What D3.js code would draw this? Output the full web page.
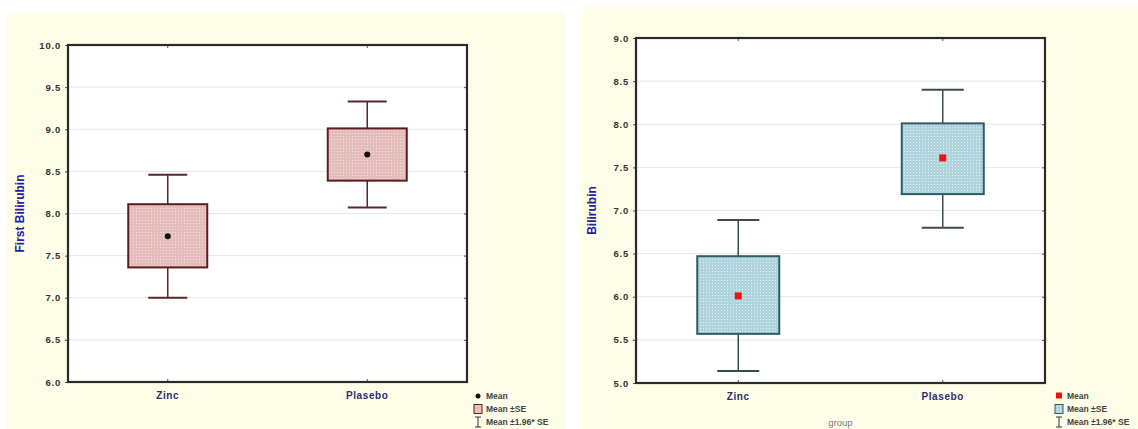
<!DOCTYPE html>
<html>
<head>
<meta charset="utf-8">
<script src="https://cdn.jsdelivr.net/npm/d3@7"></script>
<style>
  body { margin: 0; background: #fff; }
  text { font-family: Arial, "Liberation Sans", sans-serif; }
</style>
</head>
<body>
<svg id="chart" width="1138" height="429"></svg>
<script>
// groups on the x axis
const groups = ["Zinc", "Plasebo"]

// left panel: First Bilirubin
const firstMean = [7.73, 8.70]
const firstSeLow = [7.36, 8.39]
const firstSeHigh = [8.11, 9.01]
const firstCiLow = [7.00, 8.07]
const firstCiHigh = [8.46, 9.33]
const firstTicks = [6.0, 6.5, 7.0, 7.5, 8.0, 8.5, 9.0, 9.5, 10.0]

// right panel: Bilirubin
const secondMean = [6.01, 7.61]
const secondSeLow = [5.57, 7.19]
const secondSeHigh = [6.47, 8.01]
const secondCiLow = [5.14, 6.80]
const secondCiHigh = [6.89, 8.40]
const secondTicks = [5.0, 5.5, 6.0, 6.5, 7.0, 7.5, 8.0, 8.5, 9.0]

const legendLabels = ["Mean", "Mean \u00b1SE", "Mean \u00b11.96* SE"]

const svg = d3.select("#chart")
const defs = svg.append("defs")

// dotted fills like the original
function addPattern(id, base, dot) {
  let p = defs.append("pattern")
    .attr("id", id)
    .attr("width", 3)
    .attr("height", 3)
    .attr("patternUnits", "userSpaceOnUse")
  p.append("rect").attr("width", 3).attr("height", 3).attr("fill", base)
  p.append("rect").attr("x", 1).attr("y", 1).attr("width", 1).attr("height", 1).attr("fill", dot)
}
addPattern("pinkDots", "#e4bcbc", "#f4e0e0")
addPattern("blueDots", "#b0d4de", "#e2f0f4")

function drawPanel(cfg) {
  // cream panel background
  svg.append("rect")
    .attr("x", cfg.bg[0]).attr("y", cfg.bg[1])
    .attr("width", cfg.bg[2]).attr("height", cfg.bg[3])
    .attr("fill", "#fefee8")

  let x = d3.scaleBand().domain(groups).range([cfg.left, cfg.right]).padding(0)
  let y = d3.scaleLinear().domain(cfg.domain).range([cfg.bottom, cfg.top])
  let cx = d => x(d) + x.bandwidth() / 2

  let pane = svg.append("g")
  pane.append("rect")
    .attr("x", cfg.left).attr("y", cfg.top)
    .attr("width", cfg.right - cfg.left).attr("height", cfg.bottom - cfg.top)
    .attr("fill", "#fff")

  // grid
  pane.selectAll(".grid")
    .data(cfg.ticks.slice(1, -1))
    .enter()
    .append("line")
    .attr("x1", cfg.left).attr("x2", cfg.right)
    .attr("y1", d => y(d)).attr("y2", d => y(d))
    .attr("stroke", "#e6e6e6")
    .attr("stroke-width", 1)

  // y axis labels
  let yAxis = d3.axisLeft(y).tickValues(cfg.ticks).tickFormat(d3.format(".1f")).tickSize(3).tickPadding(4)
  let yg = pane.append("g").attr("transform", `translate(${cfg.left}, 0)`).call(yAxis)
  yg.select(".domain").remove()
  yg.selectAll("line").attr("stroke", "#555")
  yg.selectAll("text")
    .attr("font-size", "9.5px")
    .attr("font-weight", "bold")
    .attr("letter-spacing", "0.8px")
    .attr("fill", "#333")

  // right side ticks
  let yr = d3.axisRight(y).tickValues(cfg.ticks).tickSize(3).tickFormat("")
  let yrg = pane.append("g").attr("transform", `translate(${cfg.right - 3}, 0)`).call(yr)
  yrg.select(".domain").remove()
  yrg.selectAll("line").attr("stroke", "#555")

  // x axis
  let xAxis = d3.axisBottom(x).tickSize(3).tickPadding(10)
  let xg = pane.append("g").attr("transform", `translate(0, ${cfg.bottom - 3})`).call(xAxis)
  xg.select(".domain").remove()
  xg.selectAll("line").attr("stroke", "#555")
  xg.selectAll("text")
    .attr("font-size", "10px")
    .attr("font-weight", "bold")
    .attr("letter-spacing", "0.6px")
    .attr("fill", "#2c2c72")
  let xt = d3.axisTop(x).tickSize(3).tickFormat("")
  let xtg = pane.append("g").attr("transform", `translate(0, ${cfg.top + 3})`).call(xt)
  xtg.select(".domain").remove()
  xtg.selectAll("line").attr("stroke", "#555")

  // whiskers (mean ± 1.96*SE)
  let g = pane.selectAll(".box")
    .data(groups)
    .enter()
    .append("g")
    .classed("box", true)
  g.append("line")
    .attr("x1", d => cx(d)).attr("x2", d => cx(d))
    .attr("y1", (d, i) => y(cfg.ciLow[i])).attr("y2", (d, i) => y(cfg.ciHigh[i]))
    .attr("stroke", cfg.whisker).attr("stroke-width", 1.5)
  g.selectAll(".cap")
    .data((d, i) => [cfg.ciLow[i], cfg.ciHigh[i]].map(v => ({ g: d, v: v })))
    .enter()
    .append("line")
    .attr("x1", d => cx(d.g) - cfg.capW / 2).attr("x2", d => cx(d.g) + cfg.capW / 2)
    .attr("y1", d => y(d.v)).attr("y2", d => y(d.v))
    .attr("stroke", cfg.whisker).attr("stroke-width", 2)

  // boxes (mean ± SE)
  g.append("rect")
    .attr("x", d => cx(d) - cfg.boxW / 2)
    .attr("y", (d, i) => y(cfg.seHigh[i]))
    .attr("width", cfg.boxW)
    .attr("height", (d, i) => y(cfg.seLow[i]) - y(cfg.seHigh[i]))
    .attr("fill", cfg.fill)
    .attr("stroke", cfg.boxStroke)
    .attr("stroke-width", 2)

  // mean markers
  if (cfg.marker === "circle") {
    g.append("circle")
      .attr("cx", d => cx(d)).attr("cy", (d, i) => y(cfg.mean[i]))
      .attr("r", 3).attr("fill", "#111")
  } else {
    g.append("rect")
      .attr("x", d => cx(d) - 3.5).attr("y", (d, i) => y(cfg.mean[i]) - 3.5)
      .attr("width", 7).attr("height", 7).attr("fill", "#ee1111")
  }

  // frame
  pane.append("rect")
    .attr("x", cfg.left).attr("y", cfg.top)
    .attr("width", cfg.right - cfg.left).attr("height", cfg.bottom - cfg.top)
    .attr("fill", "none")
    .attr("stroke", "#2a2a2a")
    .attr("stroke-width", 2.2)

  // y title
  svg.append("text")
    .attr("transform", `translate(${cfg.titleX}, ${(cfg.top + cfg.bottom) / 2}) rotate(-90)`)
    .attr("text-anchor", "middle")
    .attr("font-size", "12px")
    .attr("font-weight", "bold")
    .attr("fill", "#2222a0")
    .text(cfg.title)

  if (cfg.xTitle) {
    svg.append("text")
      .attr("x", (cfg.left + cfg.right) / 2).attr("y", 426)
      .attr("text-anchor", "middle")
      .attr("font-size", "9.5px")
      .attr("fill", "#777")
      .text(cfg.xTitle)
  }

  // legend
  let lg = svg.append("g").attr("transform", `translate(${cfg.legendX}, 0)`)
  let ly = [396, 409, 422]
  if (cfg.marker === "circle") {
    lg.append("circle").attr("cx", 0).attr("cy", ly[0]).attr("r", 2.5).attr("fill", "#111")
  } else {
    lg.append("rect").attr("x", -3).attr("y", ly[0] - 3.5).attr("width", 6).attr("height", 6).attr("fill", "#ee1111")
  }
  lg.append("rect")
    .attr("x", -4).attr("y", ly[1] - 4.5).attr("width", 8).attr("height", 9)
    .attr("fill", cfg.fill).attr("stroke", cfg.boxStroke).attr("stroke-width", 1)
  lg.append("path")
    .attr("d", `M-3,${ly[2] - 5}H3M0,${ly[2] - 5}V${ly[2] + 5}M-3,${ly[2] + 5}H3`)
    .attr("stroke", "#333").attr("fill", "none").attr("stroke-width", 1)
  lg.selectAll(".lt")
    .data(legendLabels)
    .enter()
    .append("text")
    .attr("x", 8)
    .attr("y", (d, i) => ly[i] + 3)
    .attr("font-size", "8.5px")
    .attr("font-weight", "bold")
    .attr("fill", "#444")
    .text(d => d)
}

drawPanel({
  bg: [7, 12, 559, 417],
  left: 68, right: 467, top: 45, bottom: 382,
  domain: [6, 10], ticks: firstTicks,
  mean: firstMean, seLow: firstSeLow, seHigh: firstSeHigh, ciLow: firstCiLow, ciHigh: firstCiHigh,
  boxW: 79, capW: 39,
  fill: "url(#pinkDots)", boxStroke: "#5e1c1c", whisker: "#5a2828",
  marker: "circle",
  title: "First Bilirubin", titleX: 24,
  legendX: 478
})

drawPanel({
  bg: [580, 7, 558, 422],
  left: 636, right: 1045, top: 38, bottom: 383,
  domain: [5, 9], ticks: secondTicks,
  mean: secondMean, seLow: secondSeLow, seHigh: secondSeHigh, ciLow: secondCiLow, ciHigh: secondCiHigh,
  boxW: 82, capW: 42,
  fill: "url(#blueDots)", boxStroke: "#2e5c64", whisker: "#3c4c4c",
  marker: "square",
  title: "Bilirubin", titleX: 596,
  xTitle: "group",
  legendX: 1059
})
</script>
</body>
</html>
